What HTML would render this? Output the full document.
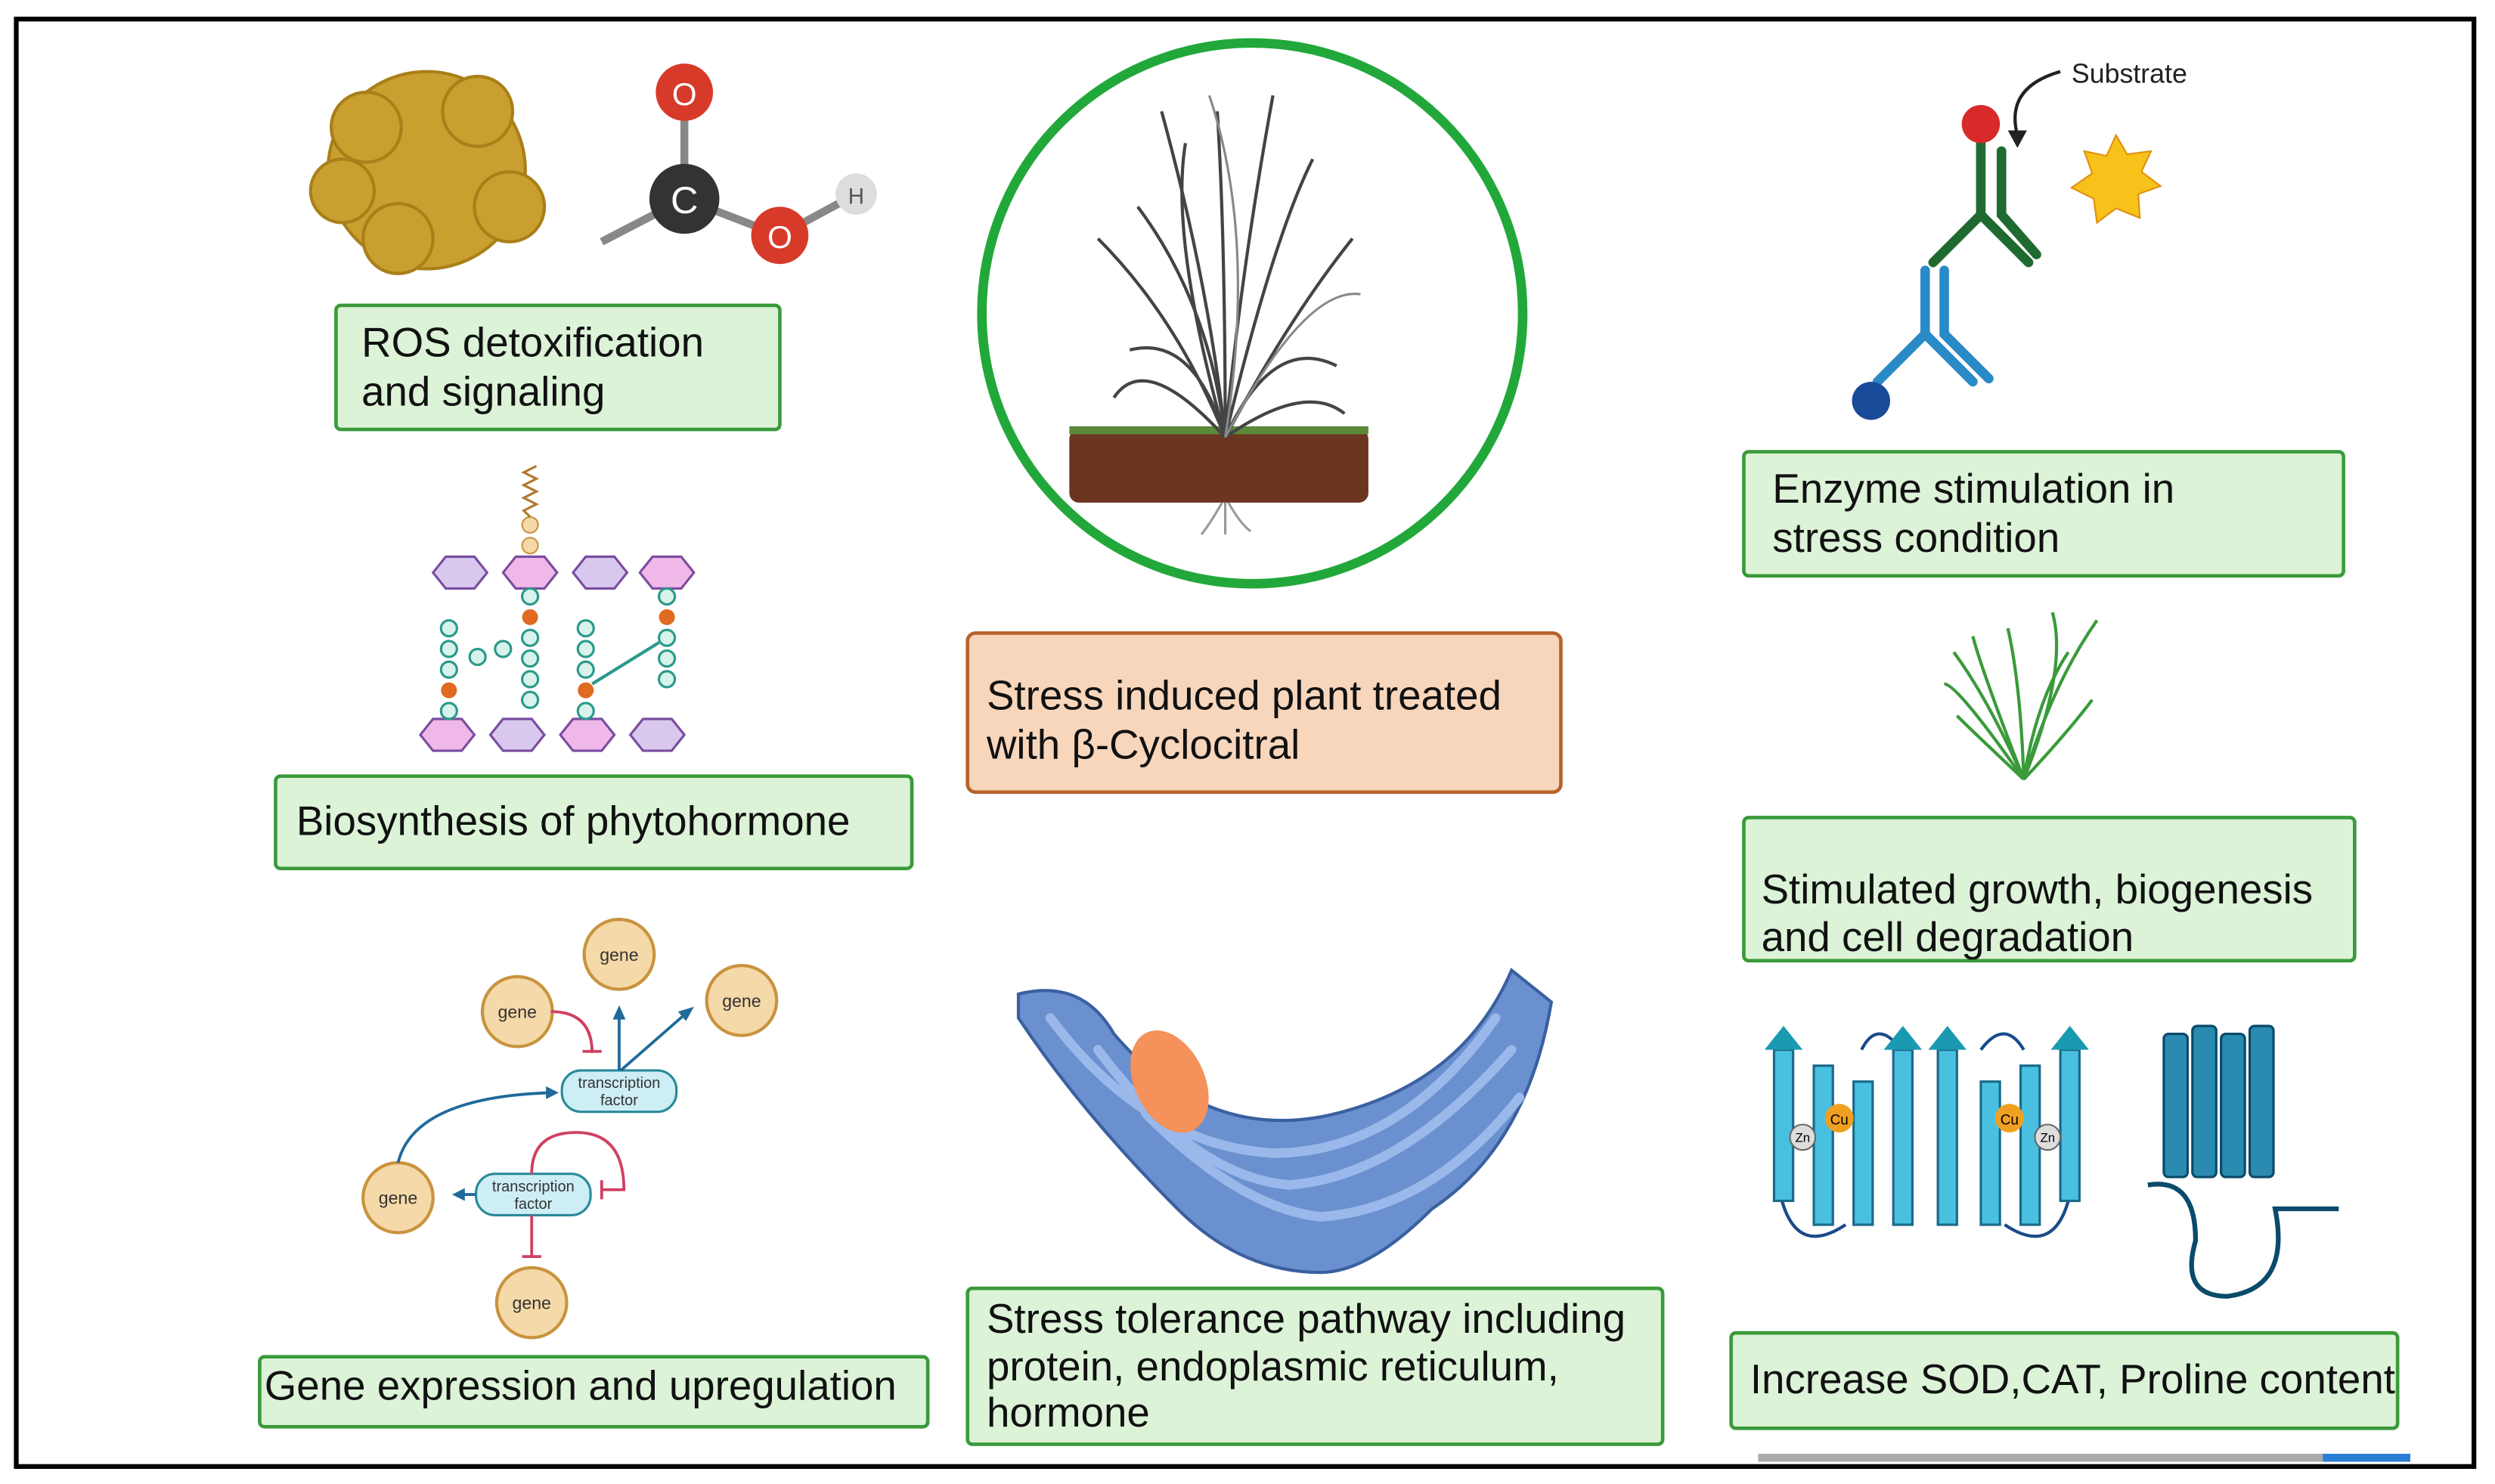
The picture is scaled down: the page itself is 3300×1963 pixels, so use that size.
<!DOCTYPE html>
<html><head><meta charset="utf-8"><style>
html,body{margin:0;padding:0;background:#fff;}
svg{display:block;}
text{font-family:"Liberation Sans",sans-serif;}
.bx{fill:#dcf3d8;stroke:#3a9a3a;stroke-width:2.2;}
.t{font-size:26px;fill:#111;}
.g{fill:#f5d9a8;stroke:#c9933e;stroke-width:2;}
.gt{font-size:11px;fill:#333;text-anchor:middle;}
</style></head><body>
<svg width="3300" height="1963" viewBox="0 0 1568 933" xmlns="http://www.w3.org/2000/svg">
<rect x="0" y="0" width="1568" height="933" fill="#fff"/>
<rect x="10" y="12" width="1545" height="910" fill="none" stroke="#000" stroke-width="3"/>
<rect x="1105" y="914" width="410" height="5" fill="#aaa"/>
<rect x="1460" y="914" width="55" height="5" fill="#2a7fd4"/>

<!-- ROS icon -->
<g fill="#c9a030" stroke="#a87f18" stroke-width="2">
<circle cx="268" cy="107" r="62"/>
<circle cx="230" cy="80" r="22"/><circle cx="300" cy="70" r="22"/><circle cx="320" cy="130" r="22"/><circle cx="250" cy="150" r="22"/><circle cx="215" cy="120" r="20"/>
</g>
<line x1="378" y1="152" x2="430" y2="125" stroke="#888" stroke-width="5"/>
<line x1="430" y1="125" x2="430" y2="60" stroke="#888" stroke-width="5"/>
<line x1="430" y1="125" x2="490" y2="148" stroke="#888" stroke-width="5"/>
<line x1="490" y1="148" x2="538" y2="122" stroke="#888" stroke-width="5"/>
<circle cx="430" cy="125" r="22" fill="#333"/><text x="430" y="134" font-size="24" fill="#fff" text-anchor="middle">C</text>
<circle cx="430" cy="58" r="18" fill="#d83a2a"/><text x="430" y="66" font-size="20" fill="#fff" text-anchor="middle">O</text>
<circle cx="490" cy="148" r="18" fill="#d83a2a"/><text x="490" y="156" font-size="20" fill="#fff" text-anchor="middle">O</text>
<circle cx="538" cy="122" r="13" fill="#ddd"/><text x="538" y="128" font-size="14" fill="#555" text-anchor="middle">H</text>

<rect class="bx" x="211" y="192" width="279" height="78" rx="3"/>
<text class="t" x="227" y="224">ROS detoxification</text>
<text class="t" x="227" y="255">and signaling</text>

<!-- phytohormone icon -->
<g stroke="#7a4da0" stroke-width="1.5" fill="#d8c8ee">
<polygon points="272,360 280,350 298,350 306,360 298,370 280,370"/>
<polygon points="316,360 324,350 342,350 350,360 342,370 324,370" fill="#f0b8e8"/>
<polygon points="360,360 368,350 386,350 394,360 386,370 368,370"/>
<polygon points="402,360 410,350 428,350 436,360 428,370 410,370" fill="#f0b8e8"/>
<polygon points="264,462 272,452 290,452 298,462 290,472 272,472" fill="#f0b8e8"/>
<polygon points="308,462 316,452 334,452 342,462 334,472 316,472"/>
<polygon points="352,462 360,452 378,452 386,462 378,472 360,472" fill="#f0b8e8"/>
<polygon points="396,462 404,452 422,452 430,462 422,472 404,472"/>
</g>
<g fill="#d8f2ec" stroke="#2a9a8a" stroke-width="1.5">
<circle cx="282" cy="395" r="5"/><circle cx="282" cy="408" r="5"/><circle cx="282" cy="421" r="5"/><circle cx="282" cy="447" r="5"/>
<circle cx="333" cy="375" r="5"/><circle cx="333" cy="401" r="5"/><circle cx="333" cy="414" r="5"/><circle cx="333" cy="427" r="5"/><circle cx="333" cy="440" r="5"/>
<circle cx="368" cy="395" r="5"/><circle cx="368" cy="408" r="5"/><circle cx="368" cy="421" r="5"/><circle cx="368" cy="447" r="5"/>
<circle cx="419" cy="375" r="5"/><circle cx="419" cy="401" r="5"/><circle cx="419" cy="414" r="5"/><circle cx="419" cy="427" r="5"/>
<circle cx="300" cy="413" r="5"/><circle cx="316" cy="408" r="5"/>
</g>
<line x1="372" y1="430" x2="414" y2="404" stroke="#2a9a8a" stroke-width="2"/>
<g fill="#e06a20"><circle cx="282" cy="434" r="5"/><circle cx="333" cy="388" r="5"/><circle cx="368" cy="434" r="5"/><circle cx="419" cy="388" r="5"/></g>
<circle cx="333" cy="330" r="5" fill="#f5d9a8" stroke="#c9933e"/><circle cx="333" cy="343" r="5" fill="#f5d9a8" stroke="#c9933e"/>
<path d="M333 325 l-4-4 8-4 -8-4 8-4 -8-4 8-4 -8-4 8-4" fill="none" stroke="#b07a30" stroke-width="1.5"/>

<rect class="bx" x="173" y="488" width="400" height="58" rx="3"/>
<text class="t" x="186" y="525">Biosynthesis of phytohormone</text>

<!-- gene network -->
<g class="g"><circle cx="389" cy="600" r="22"/><circle cx="325" cy="636" r="22"/><circle cx="466" cy="629" r="22"/><circle cx="250" cy="753" r="22"/><circle cx="334" cy="819" r="22"/></g>
<g class="gt"><text x="389" y="604">gene</text><text x="325" y="640">gene</text><text x="466" y="633">gene</text><text x="250" y="757">gene</text><text x="334" y="823">gene</text></g>
<rect x="353" y="673" width="72" height="26" rx="12" fill="#cdeef5" stroke="#2a8a9a" stroke-width="1.5"/>
<rect x="299" y="738" width="72" height="26" rx="12" fill="#cdeef5" stroke="#2a8a9a" stroke-width="1.5"/>
<g font-size="9.5" fill="#333" text-anchor="middle"><text x="389" y="684">transcription</text><text x="389" y="695">factor</text><text x="335" y="749">transcription</text><text x="335" y="760">factor</text></g>
<g fill="none" stroke="#1f6a9a" stroke-width="1.8">
<path d="M389 673 V638"/><path d="M390 673 L430 638"/><path d="M250 731 Q260 690 345 687"/><path d="M299 751 H290"/>
</g>
<g fill="#1f6a9a"><polygon points="389,632 385,641 393,641"/><polygon points="436,633 426,636 431,642"/><polygon points="351,687 343,683 343,691"/><polygon points="284,751 292,747 292,755"/></g>
<g fill="none" stroke="#d04060" stroke-width="1.8">
<path d="M346 636 Q372 636 372 662"/><path d="M366 661 H378"/>
<path d="M334 738 Q334 712 362 712 Q392 712 392 748 H378"/><path d="M378 742 V754"/>
<path d="M334 764 V790"/><path d="M328 790 H340"/>
</g>

<rect class="bx" x="163" y="853" width="420" height="44" rx="3"/>
<text class="t" x="166" y="880">Gene expression and upregulation</text>

<!-- center plant circle -->
<circle cx="787" cy="197" r="170" fill="#fff" stroke="#22a83a" stroke-width="6"/>
<rect x="672" y="270" width="188" height="46" rx="6" fill="#6b3520"/>
<rect x="672" y="268" width="188" height="5" fill="#5a8a3a"/>
<g stroke="#444" stroke-width="2" fill="none">
<path d="M770 275 Q760 180 730 70"/><path d="M770 275 Q780 170 800 60"/><path d="M770 275 Q740 200 690 150"/><path d="M770 275 Q810 200 850 150"/>
<path d="M770 275 Q750 210 710 220"/><path d="M770 275 Q800 210 840 230"/><path d="M770 275 Q770 150 765 70"/>
<path d="M770 275 Q720 220 700 250"/><path d="M770 275 Q820 240 845 260"/>
<path d="M770 275 Q735 150 745 90"/><path d="M770 275 Q800 150 825 100"/><path d="M770 275 Q760 190 715 130"/>
</g>
<g stroke="#888" stroke-width="1.5" fill="none"><path d="M770 275 Q790 150 760 60"/><path d="M770 275 Q820 180 855 185"/></g>
<g stroke="#999" stroke-width="1.5" fill="none"><path d="M768 316 Q760 330 755 336"/><path d="M770 316 V336"/><path d="M772 316 Q780 330 786 334"/></g>

<rect x="608" y="398" width="373" height="100" rx="5" fill="#f8d6bc" stroke="#b5632a" stroke-width="2.2"/>
<text class="t" x="620" y="446">Stress induced plant treated</text>
<text class="t" x="620" y="477">with β-Cyclocitral</text>

<!-- ER -->
<path d="M640 625 Q680 615 700 650 Q760 720 840 700 Q920 680 950 610 L975 630 Q960 720 900 760 Q860 800 830 800 Q780 800 740 760 Q680 700 640 640 Z" fill="#6a90d0" stroke="#3a60a0" stroke-width="2"/>
<g fill="none" stroke="#9ab8ea" stroke-width="6" stroke-linecap="round">
<path d="M660 640 Q720 720 800 725 Q880 725 940 640"/><path d="M690 660 Q750 740 810 745 Q880 740 950 660"/>
<path d="M720 700 Q780 760 830 765 Q900 760 955 690"/>
</g>
<ellipse cx="735" cy="680" rx="22" ry="34" fill="#f5915a" transform="rotate(-25 735 680)"/>

<rect class="bx" x="608" y="810" width="437" height="98" rx="3"/>
<text class="t" x="620" y="838">Stress tolerance pathway including</text>
<text class="t" x="620" y="868">protein, endoplasmic reticulum,</text>
<text class="t" x="620" y="897">hormone</text>

<!-- enzyme -->
<text x="1302" y="52" font-size="17" fill="#222">Substrate</text>
<path d="M1295 45 Q1260 55 1268 85" fill="none" stroke="#222" stroke-width="2"/>
<polygon points="1268,93 1262,82 1274,82" fill="#222"/>
<polygon points="1330,85 1337,97 1352,95 1346,108 1358,117 1344,122 1345,137 1330,131 1318,140 1316,125 1302,118 1315,109 1310,95 1324,98" fill="#f7c21a" stroke="#e09010"/>
<g stroke="#1f6a30" stroke-width="6" fill="none" stroke-linecap="round"><path d="M1245 85 V135 L1215 165"/><path d="M1245 135 L1275 165"/><path d="M1258 95 V135 L1280 160"/></g>
<circle cx="1245" cy="78" r="12" fill="#d82a2a"/>
<g stroke="#2a8ac8" stroke-width="6" fill="none" stroke-linecap="round"><path d="M1210 170 V210 L1180 240"/><path d="M1222 170 V210 L1250 238"/><path d="M1210 210 L1240 240"/></g>
<circle cx="1176" cy="252" r="12" fill="#1a4a9a"/>

<rect class="bx" x="1096" y="284" width="377" height="78" rx="3"/>
<text class="t" x="1114" y="316">Enzyme stimulation in</text>
<text class="t" x="1114" y="347">stress condition</text>

<!-- grass -->
<g stroke="#3a9a3a" stroke-width="2" fill="none">
<path d="M1272 490 Q1250 440 1228 410"/><path d="M1272 490 Q1290 430 1318 390"/><path d="M1272 490 Q1270 430 1262 395"/><path d="M1272 490 Q1240 460 1230 450"/><path d="M1272 490 Q1300 460 1315 440"/><path d="M1272 490 Q1280 440 1300 410"/>
<path d="M1272 490 Q1245 420 1240 400"/><path d="M1272 490 Q1300 420 1290 385"/><path d="M1272 490 Q1230 430 1222 430"/>
</g>

<rect class="bx" x="1096" y="514" width="384" height="90" rx="3"/>
<text class="t" x="1107" y="568">Stimulated growth, biogenesis</text>
<text class="t" x="1107" y="598">and cell degradation</text>

<!-- proteins -->
<path d="M1120 755 Q1130 790 1160 770 M1170 660 Q1180 640 1195 660 M1245 660 Q1260 640 1272 660 M1300 755 Q1290 790 1260 770" fill="none" stroke="#1a4a8a" stroke-width="2"/>
<g fill="#4ac0e0" stroke="#1a6a8a" stroke-width="1.5">
<rect x="1115" y="660" width="12" height="95"/><rect x="1140" y="670" width="12" height="100"/><rect x="1165" y="680" width="12" height="90"/><rect x="1190" y="660" width="12" height="110"/>
<rect x="1218" y="660" width="12" height="110"/><rect x="1245" y="680" width="12" height="90"/><rect x="1270" y="670" width="12" height="100"/><rect x="1295" y="660" width="12" height="95"/>
</g>
<g fill="#1a9ab0"><polygon points="1109,660 1121,645 1133,660"/><polygon points="1184,660 1196,645 1208,660"/><polygon points="1212,660 1224,645 1236,660"/><polygon points="1289,660 1301,645 1313,660"/></g>
<circle cx="1156" cy="703" r="9" fill="#f0a020"/><text x="1156" y="707" font-size="9" text-anchor="middle">Cu</text>
<circle cx="1133" cy="715" r="8" fill="#ddd" stroke="#666"/><text x="1133" y="718" font-size="8" text-anchor="middle">Zn</text>
<circle cx="1263" cy="703" r="9" fill="#f0a020"/><text x="1263" y="707" font-size="9" text-anchor="middle">Cu</text>
<circle cx="1287" cy="715" r="8" fill="#ddd" stroke="#666"/><text x="1287" y="718" font-size="8" text-anchor="middle">Zn</text>
<g fill="#2a8ab0" stroke="#0a4a6a" stroke-width="1.5">
<rect x="1360" y="650" width="15" height="90" rx="3"/><rect x="1378" y="645" width="15" height="95" rx="3"/><rect x="1396" y="650" width="15" height="90" rx="3"/><rect x="1414" y="645" width="15" height="95" rx="3"/>
</g>
<path d="M1350 745 Q1380 740 1380 780 Q1370 815 1400 815 Q1440 810 1430 760 L1470 760" fill="none" stroke="#0a4a6a" stroke-width="3"/>

<rect class="bx" x="1088" y="838" width="419" height="60" rx="3"/>
<text class="t" x="1100" y="876">Increase SOD,CAT, Proline content</text>
</svg>
</body></html>
